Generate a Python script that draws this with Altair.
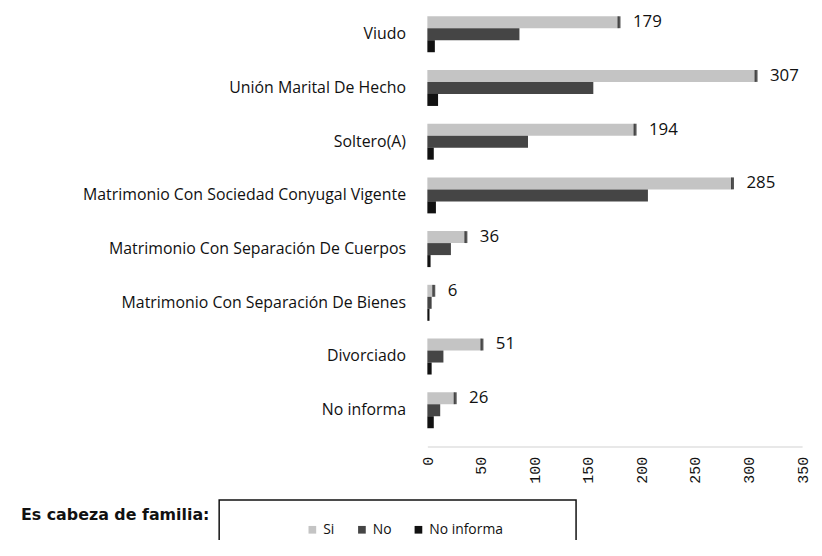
import altair as alt
import pandas as pd

categorias = [
    "Viudo",
    "Unión Marital De Hecho",
    "Soltero(A)",
    "Matrimonio Con Sociedad Conyugal Vigente",
    "Matrimonio Con Separación De Cuerpos",
    "Matrimonio Con Separación De Bienes",
    "Divorciado",
    "No informa",
]
series = ["Si", "No", "No informa"]
valores_si = [179, 307, 194, 285, 36, 6, 51, 26]
valores_no = [86, 155, 94, 206, 22, 4, 15, 12]
valores_no_informa = [7, 10, 6, 8, 3, 2, 4, 6]
ticks_x = [0, 50, 100, 150, 200, 250, 300, 350]
colores = ["#c4c4c4", "#454545", "#111111"]

rows = []
for serie, vals in zip(series, [valores_si, valores_no, valores_no_informa]):
    for c, v in zip(categorias, vals):
        rows.append({"categoria": c, "serie": serie, "valor": v})
df = pd.DataFrame(rows)
df_si = df[df["serie"] == "Si"]

x_enc = alt.X(
    "valor:Q",
    scale=alt.Scale(domain=[0, 350], nice=False),
    axis=alt.Axis(
        values=ticks_x, labelAngle=270, labelFont="Liberation Mono", labelFontSize=15,
        labelColor="#111", labelPadding=10, ticks=False, grid=False,
        domainColor="#d0d0d0", title=None,
    ),
)
y_enc = alt.Y(
    "categoria:N",
    sort=categorias,
    scale=alt.Scale(domain=categorias, paddingInner=0.33, paddingOuter=0.17, align=0),
    axis=alt.Axis(
        labelFont="Open Sans", labelFontSize=16, labelColor="#111", labelLimit=600,
        labelPadding=22, ticks=False, domain=False, grid=False, title=None,
    ),
)
yoff_enc = alt.YOffset("serie:N", sort=series, scale=alt.Scale(domain=series, paddingInner=0, paddingOuter=0))

bars = alt.Chart(df).mark_bar().encode(
    x=x_enc,
    y=y_enc,
    yOffset=yoff_enc,
    color=alt.Color(
        "serie:N",
        sort=series,
        scale=alt.Scale(domain=series, range=colores),
        legend=alt.Legend(
            title="Es cabeza de familia:",
            orient="none",
            legendX=-410,
            legendY=511,
            direction="horizontal",
            titleOrient="left",
            titleAnchor="start",
            titleBaseline="bottom",
            titleFont="DejaVu Sans",
            titleFontSize=16,
            titleFontWeight="bold",
            titleColor="#111",
            titleLimit=400,
            titlePadding=96,
            labelFont="Open Sans",
            labelFontSize=14,
            labelColor="#111",
            symbolType="square",
            symbolSize=60,
            symbolStrokeWidth=0,
            columnPadding=20,
        ),
    ),
)

marcas = alt.Chart(df_si).mark_tick(color="#111", thickness=3, size=12).encode(
    x="valor:Q", y=alt.Y("categoria:N", sort=categorias), yOffset=yoff_enc
)

etiquetas = alt.Chart(df_si).mark_text(
    align="left", baseline="middle", dx=14, font="Open Sans", fontSize=17, color="#111"
).encode(x="valor:Q", y=alt.Y("categoria:N", sort=categorias), yOffset=yoff_enc, text="valor:Q")

marco = alt.Chart(pd.DataFrame({"k": [0]})).mark_rect(
    fillOpacity=0, stroke="#111", strokeWidth=1.5
).encode(x=alt.value(-210), x2=alt.value(150), y=alt.value(488), y2=alt.value(600))

chart = alt.layer(bars, marcas, etiquetas, marco).properties(
    width=378,
    height=434,
    autosize=alt.AutoSizeParams(type="none"),
    padding={"left": 423, "top": 6, "right": 12, "bottom": 92},
).configure_view(stroke=None)

chart.save("out.html", embed_options={"renderer": "svg", "actions": False})
